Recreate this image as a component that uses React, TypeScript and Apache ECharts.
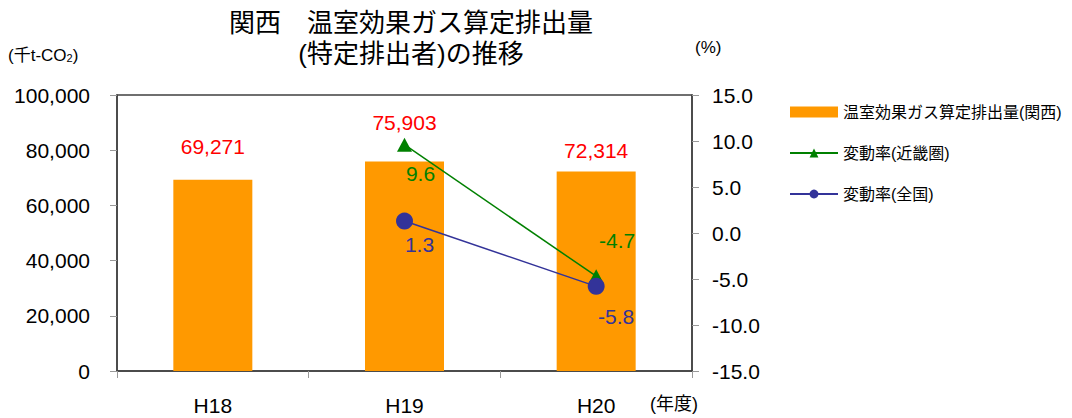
import React, { useEffect, useRef } from "react";
import * as echarts from "echarts";

const categories = ["H18", "H19", "H20"];
const emissions = [69271, 75903, 72314];
const rateKinki: (number | null)[] = [null, 9.6, -4.7];
const rateNational: (number | null)[] = [null, 1.3, -5.8];
const leftTicks = { min: 0, max: 100000, interval: 20000 };
const rightTicks = { min: -15, max: 15, interval: 5 };

const seriesNames = ["温室効果ガス算定排出量(関西)", "変動率(近畿圏)", "変動率(全国)"];

const FONT = "'Liberation Sans', 'Noto Sans CJK JP', sans-serif";

export default function App() {
  const ref = useRef<HTMLDivElement>(null);
  useEffect(() => {
    document.body.style.margin = "0";
    const chart = echarts.init(ref.current!, null, { renderer: "svg" });
    const barOffsets = [[0, -18], [0, -24], [0, -5]];
    const kinkiOffsets = [[0, 0], [16, 29], [21, -36]];
    const nationalOffsets = [[0, 0], [15, 23], [20, 30]];
    const option: any = {
      animation: false,
      textStyle: { fontFamily: FONT },
      title: {
        text: "関西　温室効果ガス算定排出量\n(特定排出者)の推移",
        left: 406,
        textAlign: "center",
        top: 2,
        textStyle: { fontFamily: FONT, fontSize: 26, fontWeight: "normal", color: "#000", lineHeight: 31 },
      },
      legend: {
        orient: "vertical",
        left: 789,
        top: 104,
        padding: 0,
        itemWidth: 48,
        itemHeight: 11,
        itemGap: 25,
        data: [
          { name: seriesNames[0], icon: "rect" },
          { name: seriesNames[1] },
          { name: seriesNames[2] },
        ],
        textStyle: { fontFamily: FONT, fontSize: 16, color: "#000" },
      },
      grid: {
        left: 117,
        right: 380,
        top: 95,
        bottom: 47,
        show: true,
        borderColor: "#404040",
        borderWidth: 1.5,
      },
      xAxis: {
        type: "category",
        data: categories,
        axisLine: { lineStyle: { color: "#404040", width: 1.5 } },
        axisTick: { show: true, length: 7, lineStyle: { color: "#999" } },
        axisLabel: { fontSize: 21, color: "#000", margin: 24, fontFamily: FONT },
      },
      yAxis: [
        {
          type: "value",
          ...leftTicks,
          axisLine: { show: true, lineStyle: { color: "#404040", width: 1.5 } },
          axisTick: { show: true, length: 7, lineStyle: { color: "#999" } },
          splitLine: { show: false },
          axisLabel: {
            fontSize: 21,
            color: "#000",
            margin: 27,
            fontFamily: FONT,
            formatter: (v: number) => v.toLocaleString("en-US"),
          },
        },
        {
          type: "value",
          ...rightTicks,
          position: "right",
          axisLine: { show: true, lineStyle: { color: "#404040", width: 1.5 } },
          axisTick: { show: true, length: 7, lineStyle: { color: "#999" } },
          splitLine: { show: false },
          axisLabel: {
            fontSize: 21,
            color: "#000",
            margin: 20,
            fontFamily: FONT,
            formatter: (v: number) => v.toFixed(1),
          },
        },
      ],
      series: [
        {
          name: seriesNames[0],
          type: "bar",
          barWidth: 79,
          itemStyle: { color: "#FF9900" },
          data: emissions.map((v, i) => ({
            value: v,
            label: { offset: barOffsets[i] },
          })),
          label: {
            show: true,
            position: "top",
            distance: 5,
            fontSize: 21,
            color: "#FF0000",
            fontFamily: FONT,
            formatter: (p: any) => Number(p.value).toLocaleString("en-US"),
          },
        },
        {
          name: seriesNames[1],
          type: "line",
          yAxisIndex: 1,
          symbol: "triangle",
          symbolSize: [15, 14],
          itemStyle: { color: "#008000" },
          lineStyle: { color: "#008000", width: 1.5 },
          data: rateKinki.map((v, i) => ({ value: v, label: { offset: kinkiOffsets[i] } })),
          label: {
            show: true,
            position: "inside",
            fontSize: 21,
            color: "#008000",
            fontFamily: FONT,
            formatter: (p: any) => Number(p.value).toFixed(1),
          },
        },
        {
          name: seriesNames[2],
          type: "line",
          yAxisIndex: 1,
          symbol: "circle",
          symbolSize: 17,
          itemStyle: { color: "#333399" },
          lineStyle: { color: "#333399", width: 1.5 },
          data: rateNational.map((v, i) => ({ value: v, label: { offset: nationalOffsets[i] } })),
          label: {
            show: true,
            position: "inside",
            fontSize: 21,
            color: "#333399",
            fontFamily: FONT,
            formatter: (p: any) => Number(p.value).toFixed(1),
          },
        },
      ],
      graphic: [
        {
          type: "text",
          left: 8,
          top: 47,
          style: {
            text: "(千t-CO{sub|2})",
            fontSize: 17,
            fill: "#000",
            fontFamily: FONT,
            rich: { sub: { fontSize: 11, verticalAlign: "bottom", padding: [6, 0, 0, 0], fontFamily: FONT } },
          },
        },
        {
          type: "text",
          left: 695,
          top: 39,
          style: { text: "(%)", fontSize: 17, fill: "#000", fontFamily: FONT },
        },
        {
          type: "text",
          left: 650,
          top: 395,
          style: { text: "(年度)", fontSize: 18, fill: "#000", fontFamily: FONT },
        },
      ],
    };
    chart.setOption(option);
    return () => chart.dispose();
  }, []);
  return <div ref={ref} style={{ width: 1072, height: 418 }} />;
}
